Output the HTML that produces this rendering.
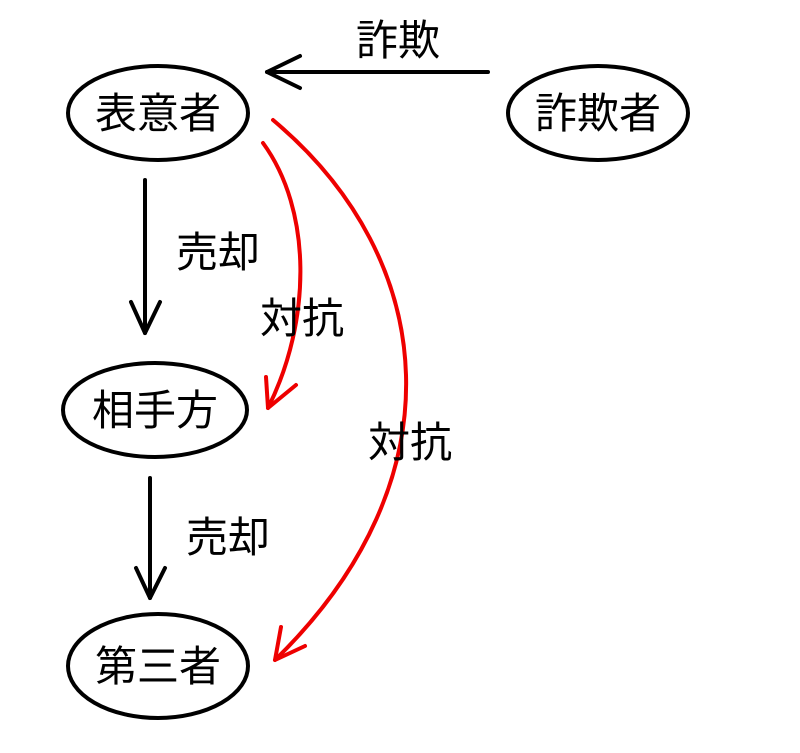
<!DOCTYPE html>
<html><head><meta charset="utf-8"><style>
html,body{margin:0;padding:0;background:#fff;}
text{font-family:"Liberation Sans","Noto Sans CJK JP",sans-serif;font-size:42px;fill:#000;}
</style></head><body>
<svg width="800" height="748" viewBox="0 0 800 748" xmlns="http://www.w3.org/2000/svg">
<g fill="none" stroke="#000" stroke-width="4">
<ellipse cx="158" cy="113" rx="90" ry="47"/>
<ellipse cx="598" cy="113" rx="90" ry="47"/>
<ellipse cx="155" cy="410" rx="92" ry="47"/>
<ellipse cx="158" cy="666" rx="90" ry="52"/>
</g>
<g fill="none" stroke="#000" stroke-width="4" stroke-linecap="round" stroke-linejoin="round">
<path d="M488 72 L267 72"/>
<path d="M300 56 L267 72 L300 88"/>
<path d="M145 180 L145 333"/>
<path d="M131 302 L145 333 L160 302"/>
<path d="M150 478 L150 598"/>
<path d="M136 568 L150 598 L165 568"/>
</g>
<g fill="none" stroke="#e00" stroke-width="4" stroke-linecap="round" stroke-linejoin="round">
<path d="M263 143 C312 210 312 320 268 408"/>
<path d="M266 377 L268 408 L296 385"/>
<path d="M273 120 C440 260 460 480 275 660"/>
<path d="M281 627 L275 660 L305 646"/>
</g>
<text x="398" y="55" text-anchor="middle">詐欺</text>
<text x="158" y="128" text-anchor="middle">表意者</text>
<text x="598" y="128" text-anchor="middle">詐欺者</text>
<text x="155" y="425" text-anchor="middle">相手方</text>
<text x="158" y="681" text-anchor="middle">第三者</text>
<text x="218" y="267" text-anchor="middle">売却</text>
<text x="228" y="552" text-anchor="middle">売却</text>
<text x="302" y="333" text-anchor="middle">対抗</text>
<text x="410" y="457" text-anchor="middle">対抗</text>
</svg>
</body></html>
